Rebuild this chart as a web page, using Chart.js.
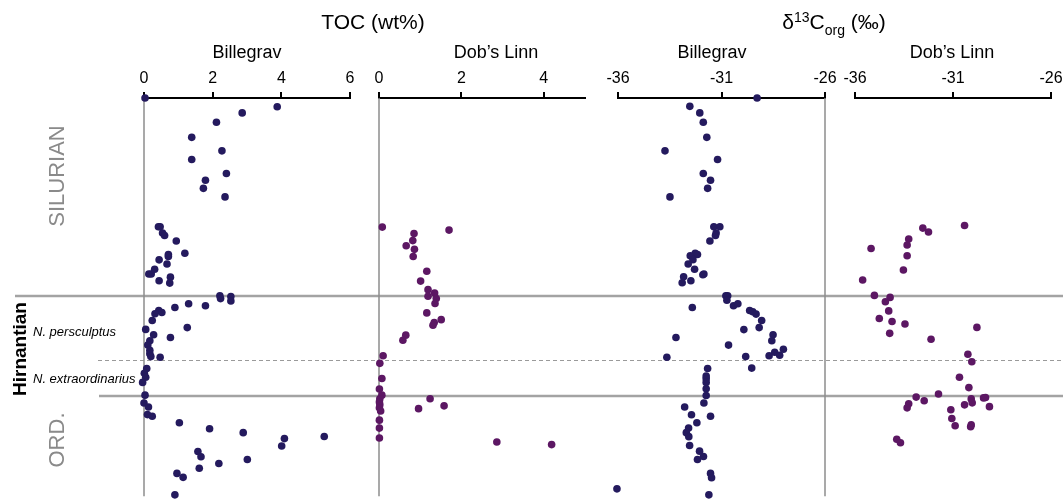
<!DOCTYPE html>
<html>
<head>
<meta charset="utf-8">
<script src="https://cdn.jsdelivr.net/npm/chart.js@4.4.0/dist/chart.umd.min.js"></script>
<style>
  body { margin: 0; background: #fff; }
  #wrap { position: relative; width: 1063px; height: 503px; overflow: hidden; font-family: "Liberation Sans", Arial, sans-serif; }
  #wrap canvas { position: absolute; top: 0; }
  .lbl { position: absolute; white-space: nowrap; line-height: 1; transform: translate(-50%, -50%); color: #000; }
  .rot { transform: translate(-50%, -50%) rotate(-90deg); }
  .zone { position: absolute; white-space: nowrap; line-height: 1; transform: translateY(-50%); font-style: italic; font-size: 13px; }
</style>
</head>
<body>
<div id="wrap">
  <canvas id="bg" width="1063" height="503"></canvas>
  <canvas id="p1"></canvas>
  <canvas id="p2"></canvas>
  <canvas id="p3"></canvas>
  <canvas id="p4"></canvas>

  <div class="lbl" style="left:373px;top:21px;font-size:21px;">TOC (wt%)</div>
  <div class="lbl" style="left:834px;top:21px;font-size:21px;">δ<span style="font-size:14px;position:relative;top:-7px;">13</span>C<span style="font-size:14px;position:relative;top:6px;">org</span> (‰)</div>
  <div class="lbl" style="left:247px;top:52px;font-size:18px;">Billegrav</div>
  <div class="lbl" style="left:496px;top:52px;font-size:18px;">Dob’s Linn</div>
  <div class="lbl" style="left:712px;top:52px;font-size:18px;">Billegrav</div>
  <div class="lbl" style="left:952px;top:52px;font-size:18px;">Dob’s Linn</div>
  <div class="lbl rot" style="left:57px;top:176px;font-size:22px;color:#8a8a8a;">SILURIAN</div>
  <div class="lbl rot" style="left:57px;top:440px;font-size:22px;color:#8a8a8a;">ORD.</div>
  <div class="lbl rot" style="left:19px;top:349px;font-size:19px;font-weight:bold;">Hirnantian</div>
  <div class="zone" style="left:33px;top:331px;">N. persculptus</div>
  <div class="zone" style="left:33px;top:378px;">N. extraordinarius</div>
</div>

<script>
// stratigraphic position (arbitrary units, 0 = top of section)
const billeTocDepth = [0.0, 2.2, 3.75, 6.1, 9.9, 13.3, 15.5, 19.0, 20.7, 22.75, 24.9, 32.4, 32.4, 34.0, 34.6, 36.0, 39.1, 39.4, 39.9, 40.75,
  41.8, 43.1, 44.3, 44.3, 45.1, 46.0, 46.6, 49.8, 50.5, 50.0, 51.1, 52.3, 51.8, 52.75, 53.5, 54.0, 54.3, 56.0, 57.8, 58.25,
  59.6, 60.3, 61.1, 62.2, 63.5, 64.4, 65.1, 65.25, 68.1, 69.3, 70.3, 71.6, 74.8, 76.8, 77.8, 79.7, 80.1, 81.75, 83.25, 84.25,
  85.75, 87.6, 85.2, 89.0, 90.3, 91.0, 92.0, 93.2, 94.5, 95.5, 99.9];
const billeToc = [0.03, 3.88, 2.86, 2.11, 1.39, 2.27, 1.39, 2.40, 1.79, 1.73, 2.36, 0.42, 0.47, 0.54, 0.60, 0.94, 1.19, 0.71, 0.71, 0.44,
  0.67, 0.31, 0.14, 0.21, 0.77, 0.44, 0.75, 2.21, 2.23, 2.53, 2.53, 1.79, 1.30, 0.90, 0.43, 0.52, 0.32, 0.24, 1.26, 0.05,
  0.28, 0.77, 0.17, 0.11, 0.17, 0.17, 0.20, 0.47, 0.08, 0.01, 0.05, -0.04, 0.03, 0.0, 0.13, 0.10, 0.24, 1.03, 1.91, 2.89,
  4.09, 4.01, 5.25, 1.57, 1.66, 3.01, 2.18, 1.61, 0.96, 1.14, 0.90];

const billeCarbDepth = [0.0, 2.1, 3.75, 6.1, 9.9, 13.3, 15.5, 19.0, 20.7, 22.75, 24.9, 32.4, 32.4, 34.0, 34.6, 36.0, 39.1, 39.4, 39.7, 40.7,
  41.8, 43.1, 44.3, 44.5, 45.0, 46.5, 46.0, 49.8, 49.8, 50.9, 52.3, 51.8, 52.75, 53.5, 53.8, 54.4, 56.0, 58.3, 57.8, 60.3,
  59.6, 61.1, 62.2, 65.25, 65.1, 64.9, 64.0, 64.75, 63.25, 68.0, 68.1, 70.0, 70.7, 71.6, 73.2, 74.9, 76.8, 77.8, 80.1, 79.75,
  81.75, 83.1, 84.25, 85.25, 87.5, 88.9, 90.25, 91.0, 94.5, 95.6, 98.4, 99.9];
const billeCarb = [-29.28, -32.53, -32.05, -31.88, -31.71, -33.73, -31.19, -31.88, -31.53, -31.67, -33.49, -31.37, -31.08, -31.26, -31.29, -31.56, -32.27, -32.16, -32.51, -32.38,
  -32.61, -32.30, -31.85, -31.90, -32.83, -32.90, -32.48, -30.79, -30.70, -30.74, -30.42, -30.21, -32.41, -29.64, -29.49, -29.33, -29.06, -29.92, -29.18, -33.20,
  -28.51, -28.57, -30.66, -33.64, -29.83, -28.70, -28.43, -28.19, -28.01, -29.54, -31.67, -31.74, -31.74, -31.74, -31.74, -31.74, -31.85, -32.78, -31.53, -32.45,
  -32.19, -32.59, -32.70, -32.58, -32.54, -32.06, -31.87, -32.16, -31.53, -31.48, -36.05, -31.61];

const dobTocDepth = [32.5, 33.25, 34.1, 35.9, 37.2, 38.1, 39.9, 43.6, 46.1, 48.25, 49.1, 49.9, 50.5, 51.75, 54.1, 55.8, 56.5, 57.2, 59.7, 61.0,
  64.9, 66.8, 70.6, 73.25, 74.8, 75.7, 76.5, 77.2, 78.0, 78.8, 75.7, 78.2, 77.5, 81.1, 83.1, 85.6, 86.6, 87.25];
const dobToc = [0.08, 1.70, 0.85, 0.82, 0.66, 0.86, 0.83, 1.16, 1.01, 1.19, 1.35, 1.19, 1.39, 1.36, 1.16, 1.51, 1.34, 1.31, 0.65, 0.58,
  0.10, 0.02, 0.07, 0.01, 0.07, 0.02, 0.01, 0.02, 0.01, 0.04, 1.24, 0.96, 1.58, 0.01, 0.01, 0.01, 2.86, 4.19];

const dobCarbDepth = [32.1, 32.75, 33.75, 35.5, 37.0, 37.9, 39.7, 43.3, 45.8, 49.7, 50.2, 51.3, 53.6, 55.5, 56.25, 56.9, 59.25, 57.75, 60.75, 64.5,
  66.4, 70.3, 72.9, 74.5, 75.3, 76.2, 77.0, 78.0, 77.25, 75.75, 76.75, 75.5, 75.4, 77.7, 78.5, 80.7, 82.5, 82.3, 82.75, 85.9, 86.8];
const dobCarb = [-30.41, -32.54, -32.25, -33.26, -33.34, -35.18, -33.34, -33.53, -35.61, -35.01, -34.21, -34.45, -34.28, -34.76, -34.11, -33.45, -34.23, -29.78, -32.12, -30.24,
  -30.04, -30.67, -30.19, -31.74, -32.88, -32.47, -33.26, -33.34, -30.41, -30.07, -30.02, -29.44, -29.34, -29.14, -31.11, -31.06, -30.89, -30.07, -30.10, -33.87, -33.68];

const billeTocTicks = [0, 2, 4, 6];
const dobTocTicks = [0, 2, 4];
const carbTicks = [-36, -31, -26];

const stageBoundaries = [49.5, 74.5];   // Silurian / Hirnantian / Ordovician
const zoneBoundary = 65.5;              // persculptus / extraordinarius

const DEPTH_MAX = 101;
const PAD = 20;
const FONT = '"Liberation Sans", Arial, sans-serif';
const NAVY = '#241a5e';
const PURPLE = '#5c1763';

// background chart, only carries the shared depth scale and the boundary lines
const boundaryLines = {
  id: 'boundaryLines',
  beforeDraw(chart) {
    const y = chart.scales.y;
    const ctx = chart.ctx;
    const w = chart.width;
    ctx.save();
    ctx.strokeStyle = '#a3a3a3';
    ctx.lineWidth = 2.5;
    const starts = [15, 99];
    stageBoundaries.forEach((d, i) => {
      const py = Math.round(y.getPixelForValue(d));
      ctx.beginPath();
      ctx.moveTo(starts[i], py);
      ctx.lineTo(w, py);
      ctx.stroke();
    });
    ctx.strokeStyle = '#9a9a9a';
    ctx.lineWidth = 1;
    ctx.setLineDash([4, 3]);
    const pz = Math.round(y.getPixelForValue(zoneBoundary)) + 0.5;
    ctx.beginPath();
    ctx.moveTo(98, pz);
    ctx.lineTo(w, pz);
    ctx.stroke();
    ctx.restore();
  }
};

new Chart(document.getElementById('bg'), {
  type: 'scatter',
  data: { datasets: [] },
  options: {
    animation: false, responsive: false, devicePixelRatio: 1, events: [],
    layout: { padding: { top: 98, bottom: 1, left: 0, right: 0 } },
    plugins: { legend: { display: false }, tooltip: { enabled: false } },
    scales: {
      x: { display: false, min: 0, max: 1 },
      y: { display: false, min: 0, max: DEPTH_MAX, reverse: true }
    }
  },
  plugins: [boundaryLines]
});

const refLine = {
  id: 'refLine',
  beforeDatasetsDraw(chart, args, opts) {
    if (opts.value === undefined || opts.value === null) return;
    const x = chart.scales.x.getPixelForValue(opts.value);
    const a = chart.chartArea;
    const ctx = chart.ctx;
    ctx.save();
    ctx.strokeStyle = '#8c8c8c';
    ctx.lineWidth = 1.5;
    ctx.beginPath();
    ctx.moveTo(x, a.top);
    ctx.lineTo(x, a.bottom - 3);
    ctx.stroke();
    ctx.restore();
  }
};

const panels = [
  { id: 'p1', left: 144, right: 350, min: 0, max: 6, ticks: billeTocTicks, xs: billeToc, ys: billeTocDepth, color: NAVY, ref: 0 },
  { id: 'p2', left: 379, right: 585, min: 0, max: 5, ticks: dobTocTicks, xs: dobToc, ys: dobTocDepth, color: PURPLE, ref: 0 },
  { id: 'p3', left: 618, right: 825, min: -36, max: -26, ticks: carbTicks, xs: billeCarb, ys: billeCarbDepth, color: NAVY, ref: -26 },
  { id: 'p4', left: 855, right: 1051, min: -36, max: -26, ticks: carbTicks, xs: dobCarb, ys: dobCarbDepth, color: PURPLE, ref: null }
];

panels.forEach(p => {
  const canvas = document.getElementById(p.id);
  canvas.width = p.right - p.left + 2 * PAD;
  canvas.height = 503;
  canvas.style.left = (p.left - PAD) + 'px';

  new Chart(canvas, {
    type: 'scatter',
    data: {
      datasets: [{
        data: p.xs.map((x, i) => ({ x: x, y: p.ys[i] })),
        backgroundColor: p.color,
        borderWidth: 0,
        pointRadius: 3.8,
        pointHoverRadius: 3.8,
        clip: false
      }]
    },
    options: {
      animation: false, responsive: false, devicePixelRatio: 1, events: [],
      layout: { padding: { left: PAD, right: PAD, top: 58, bottom: 1 } },
      plugins: { legend: { display: false }, tooltip: { enabled: false }, refLine: { value: p.ref } },
      scales: {
        x: {
          type: 'linear', position: 'top', min: p.min, max: p.max,
          afterFit(s) { s.height = 40; },
          afterBuildTicks(s) { s.ticks = p.ticks.map(v => ({ value: v })); },
          grid: { drawOnChartArea: false, color: '#000', lineWidth: 2, tickLength: 6 },
          border: { color: '#000', width: 2 },
          ticks: { color: '#000', font: { family: FONT, size: 16 }, padding: 4, maxRotation: 0, autoSkip: false }
        },
        y: { display: false, min: 0, max: DEPTH_MAX, reverse: true }
      }
    },
    plugins: [refLine]
  });
});
</script>
</body>
</html>
